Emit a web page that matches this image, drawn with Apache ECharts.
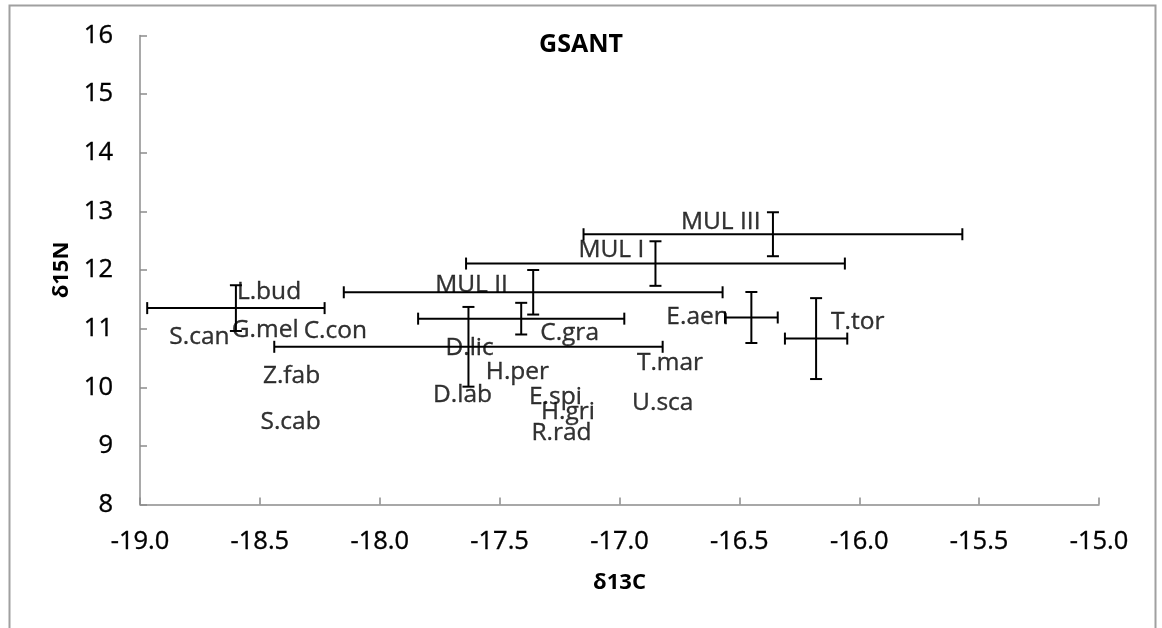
<!DOCTYPE html>
<html>
<head>
<meta charset="utf-8">
<script src="https://cdn.jsdelivr.net/npm/echarts@6/dist/echarts.min.js"></script>
<style>
  html, body { margin: 0; padding: 0; background: #ffffff; }
  #chart { width: 1162px; height: 628px; }
</style>
</head>
<body>
<div id="chart"></div>
<script>
// Species codes and their stable-isotope means (δ13C, δ15N) with standard deviations
const species = ['L.bud', 'MUL II', 'MUL I', 'MUL III', 'C.gra', 'D.lic', 'E.aen', 'T.tor',
                 'S.can', 'G.mel', 'C.con', 'Z.fab', 'S.cab', 'D.lab', 'H.per', 'E.spi',
                 'H.gri', 'R.rad', 'T.mar', 'U.sca'];
const d13C = [-18.60, -17.36, -16.85, -16.36, -17.41, -17.63, -16.45, -16.18,
              -18.89, -18.63, -18.33, -18.50, -18.51, -17.79, -17.57, -17.39,
              -17.34, -17.38, -16.94, -16.96];
const d15N = [11.35, 11.62, 12.11, 12.61, 11.17, 10.69, 11.19, 10.83,
              10.86, 10.98, 10.96, 10.19, 9.41, 9.87, 10.26, 9.83,
              9.58, 9.22, 10.41, 9.73];
const sdC = [0.37, 0.79, 0.79, 0.79, 0.43, 0.81, 0.11, 0.13,
             0, 0, 0, 0, 0, 0, 0, 0, 0, 0, 0, 0];
const sdN = [0.39, 0.38, 0.38, 0.375, 0.27, 0.68, 0.435, 0.69,
             0, 0, 0, 0, 0, 0, 0, 0, 0, 0, 0, 0];
const xTicks = { min: -19, max: -15, step: 0.5 };
const yTicks = { min: 8, max: 16, step: 1 };

// Pixel nudges that keep overlapping name labels readable
const labelShift = [[-2, -16], [-101, -7], [-80, -14], [-95, -12], [16, 14], [-26, 1], [-88, 0], [12, -17],
                    [0, 0], [0, 0], [0, 0], [0, 0], [0, 0], [0, 0], [0, 0], [0, 0], [0, 0], [0, 0], [0, 0], [0, 0]];

const FONT = '"Open Sans", Lato, sans-serif';
const AXIS_GRAY = '#8c8c8c';
// a hairline outline gives the regular text a slightly heavier stroke
const INK = { color: '#000000', textBorderColor: '#000000', textBorderWidth: 0.35 };

const pointData = species.map((name, i) => ({
  name: name,
  value: [d13C[i], d15N[i]],
  label: { offset: labelShift[i] }
}));

const barData = [];
species.forEach((name, i) => {
  if (sdC[i] > 0 || sdN[i] > 0) barData.push([d13C[i], d15N[i], sdC[i], sdN[i]]);
});

// Cross-shaped error bars (±SD on both isotopes) with end caps
function renderErrorBar(params, api) {
  const x = api.value(0), y = api.value(1), sx = api.value(2), sy = api.value(3);
  const cap = 6;
  const style = { stroke: '#000000', lineWidth: 2 };
  const kids = [];
  if (sx > 0) {
    const a = api.coord([x - sx, y]), b = api.coord([x + sx, y]);
    kids.push({ type: 'line', shape: { x1: a[0], y1: a[1], x2: b[0], y2: b[1] }, style });
    kids.push({ type: 'line', shape: { x1: a[0], y1: a[1] - cap, x2: a[0], y2: a[1] + cap }, style });
    kids.push({ type: 'line', shape: { x1: b[0], y1: b[1] - cap, x2: b[0], y2: b[1] + cap }, style });
  }
  if (sy > 0) {
    const a = api.coord([x, y + sy]), b = api.coord([x, y - sy]);
    kids.push({ type: 'line', shape: { x1: a[0], y1: a[1], x2: b[0], y2: b[1] }, style });
    kids.push({ type: 'line', shape: { x1: a[0] - cap, y1: a[1], x2: a[0] + cap, y2: a[1] }, style });
    kids.push({ type: 'line', shape: { x1: b[0] - cap, y1: b[1], x2: b[0] + cap, y2: b[1] }, style });
  }
  return { type: 'group', children: kids };
}

const chart = echarts.init(document.getElementById('chart'), null, { renderer: 'canvas' });
chart.setOption({
  animation: false,
  backgroundColor: '#ffffff',
  title: {
    text: 'GSANT',
    left: 'center',
    top: 27,
    textStyle: { fontFamily: FONT, fontWeight: 'bold', fontSize: 25, color: '#000000' }
  },
  graphic: [{
    type: 'rect',
    shape: { x: 9.5, y: 5.5, width: 1146, height: 660 },
    style: { fill: 'none', stroke: '#a0a0a0', lineWidth: 2 },
    silent: true
  }],
  grid: { left: 140, right: 63, top: 35.5, bottom: 123.5 },
  xAxis: {
    type: 'value',
    min: xTicks.min, max: xTicks.max, interval: xTicks.step,
    name: 'δ13C',
    nameLocation: 'middle',
    nameGap: 67,
    nameTextStyle: { fontFamily: FONT, fontWeight: 'bold', fontSize: 22, color: '#000000' },
    axisLine: { show: true, lineStyle: { color: AXIS_GRAY, width: 1.5 } },
    axisTick: { show: true, inside: true, length: 7, lineStyle: { color: AXIS_GRAY, width: 1.5 } },
    axisLabel: Object.assign({
      margin: 24, fontFamily: FONT, fontSize: 25.5,
      formatter: v => v.toFixed(1)
    }, INK),
    splitLine: { show: false }
  },
  yAxis: {
    type: 'value',
    min: yTicks.min, max: yTicks.max, interval: yTicks.step,
    name: 'δ15N',
    nameLocation: 'middle',
    nameGap: 67,
    nameRotate: 90,
    nameTextStyle: { fontFamily: FONT, fontWeight: 'bold', fontSize: 22, color: '#000000' },
    axisLine: { show: true, lineStyle: { color: AXIS_GRAY, width: 1.5 } },
    axisTick: { show: true, inside: true, length: 7, lineStyle: { color: AXIS_GRAY, width: 1.5 } },
    axisLabel: Object.assign({ margin: 27, fontFamily: FONT, fontSize: 25.5 }, INK),
    splitLine: { show: false }
  },
  series: [
    {
      type: 'custom',
      renderItem: renderErrorBar,
      data: barData,
      encode: { x: 0, y: 1 },
      silent: true,
      z: 2
    },
    {
      type: 'scatter',
      symbolSize: 0,
      data: pointData,
      silent: true,
      z: 3,
      label: Object.assign({
        show: true,
        position: 'right',
        distance: 3,
        formatter: p => p.name,
        fontFamily: FONT,
        fontSize: 24.5
      }, INK)
    }
  ]
});
</script>
</body>
</html>
